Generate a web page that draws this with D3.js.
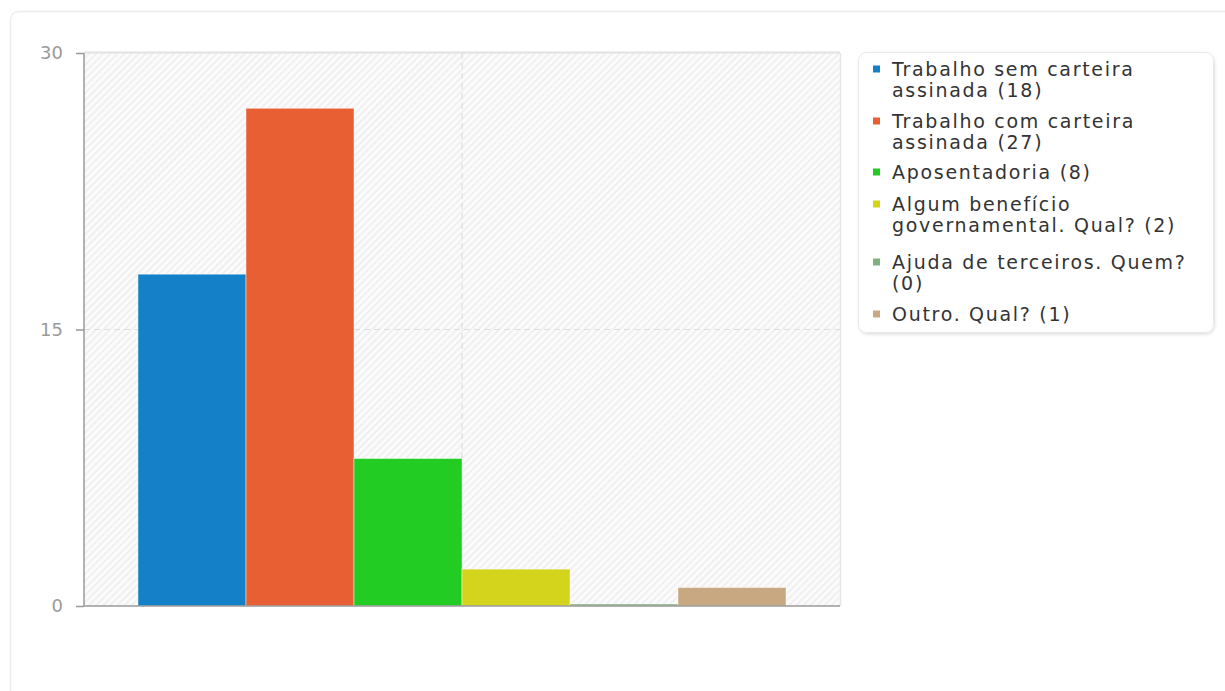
<!DOCTYPE html>
<html>
<head>
<meta charset="utf-8">
<script src="https://cdn.jsdelivr.net/npm/d3@7"></script>
<style>
  html, body { margin: 0; padding: 0; background: #fff; }
  svg { display: block; font-family: "DejaVu Sans", sans-serif; }
</style>
</head>
<body>
<svg id="chart" width="1225" height="691"></svg>
<script>
// Fontes de renda
const categories = [
  ["Trabalho sem carteira", "assinada (18)"],
  ["Trabalho com carteira", "assinada (27)"],
  ["Aposentadoria (8)"],
  ["Algum benefício", "governamental. Qual? (2)"],
  ["Ajuda de terceiros. Quem?", "(0)"],
  ["Outro. Qual? (1)"]
];
const values = [18, 27, 8, 2, 0, 1];
const colors = ["#1480c8", "#e85f33", "#22cc22", "#d4d41c", "#80b080", "#c8a880"];
const yTicks = [0, 15, 30];

const svg = d3.select("#chart");
const defs = svg.append("defs");

// diagonal hatch for the plot background
const pat = defs.append("pattern")
  .attr("id", "hatch").attr("patternUnits", "userSpaceOnUse")
  .attr("width", 5).attr("height", 5)
  .attr("patternTransform", "rotate(45)");
pat.append("rect").attr("width", 5).attr("height", 5).attr("fill", "#fbfbfb");
pat.append("rect").attr("width", 2).attr("height", 5).attr("fill", "#f0f0f0");

const shadow = defs.append("filter").attr("id", "shadow")
  .attr("x", "-5%").attr("y", "-5%").attr("width", "110%").attr("height", "110%");
shadow.append("feDropShadow").attr("dx", 1).attr("dy", 1.5)
  .attr("stdDeviation", 1.5).attr("flood-color", "#000").attr("flood-opacity", 0.12);

// outer card
svg.append("rect")
  .attr("x", 10.5).attr("y", 11.5).attr("width", 1400).attr("height", 900)
  .attr("rx", 8).attr("fill", "#fff").attr("stroke", "#ececec").attr("stroke-width", 1.5);

const plot = { left: 84, right: 840, top: 53, bottom: 606 };

const x = d3.scaleBand()
  .domain(d3.range(values.length))
  .range([plot.left, plot.right])
  .paddingInner(0).paddingOuter(0.5);
const y = d3.scaleLinear().domain([0, 30]).range([plot.bottom, plot.top]);

// plot background
svg.append("rect")
  .attr("x", plot.left).attr("y", plot.top)
  .attr("width", plot.right - plot.left).attr("height", plot.bottom - plot.top)
  .attr("fill", "url(#hatch)");

// top and right frame
svg.append("line").attr("x1", plot.left).attr("x2", plot.right)
  .attr("y1", plot.top - 0.5).attr("y2", plot.top - 0.5)
  .attr("stroke", "#e2e2e2").attr("stroke-width", 2);
svg.append("line").attr("x1", plot.right + 0.5).attr("x2", plot.right + 0.5)
  .attr("y1", plot.top).attr("y2", plot.bottom)
  .attr("stroke", "#e6e6e6").attr("stroke-width", 1.5);

// gridlines
svg.append("line")
  .attr("x1", plot.left).attr("x2", plot.right)
  .attr("y1", y(15)).attr("y2", y(15))
  .attr("stroke", "#dedede").attr("stroke-width", 1.2).attr("stroke-dasharray", "6,4");
svg.append("line")
  .attr("x1", (plot.left + plot.right) / 2).attr("x2", (plot.left + plot.right) / 2)
  .attr("y1", plot.top).attr("y2", plot.bottom)
  .attr("stroke", "#dedede").attr("stroke-width", 1.2).attr("stroke-dasharray", "6,4");

// bars
svg.append("g").selectAll("rect")
  .data(values)
  .join("rect")
  .attr("x", (d, i) => x(i))
  .attr("width", x.bandwidth())
  .attr("y", d => Math.min(y(d), plot.bottom - 2))
  .attr("height", d => Math.max(plot.bottom - y(d), 2))
  .attr("fill", (d, i) => colors[i])
  .attr("stroke", "rgba(255,255,255,0.45)").attr("stroke-width", 1);

// y axis
const yAxis = d3.axisLeft(y).tickValues(yTicks).tickSize(8).tickPadding(13).tickFormat(d3.format("d"));
const gy = svg.append("g").attr("transform", `translate(${plot.left},0)`).call(yAxis);
gy.select(".domain").attr("stroke", "#9a9a9a").attr("stroke-width", 1.5)
  .attr("d", `M0,${plot.top}V${plot.bottom}`);
gy.selectAll(".tick line").attr("stroke", "#9a9a9a").attr("stroke-width", 1.5);
gy.selectAll(".tick text").attr("fill", "#9a9a9a").attr("font-size", 18)
  .attr("font-family", "DejaVu Sans, sans-serif");

// x baseline
svg.append("line").attr("x1", plot.left).attr("x2", plot.right)
  .attr("y1", plot.bottom).attr("y2", plot.bottom)
  .attr("stroke", "#9a9a9a").attr("stroke-width", 1.5);

// legend
const legend = svg.append("g");
legend.append("rect")
  .attr("x", 858.5).attr("y", 52.5).attr("width", 355).attr("height", 280)
  .attr("rx", 8).attr("fill", "#fff").attr("stroke", "#e8e8e8")
  .attr("filter", "url(#shadow)");

const itemY = [69, 121, 172, 204, 262, 314];
const lineH = 21.5;
categories.forEach((lines, i) => {
  const g = legend.append("g");
  g.append("rect")
    .attr("x", 873).attr("y", itemY[i] - 3.5).attr("width", 7).attr("height", 7)
    .attr("fill", colors[i]);
  const t = g.append("text")
    .attr("x", 892).attr("y", itemY[i])
    .attr("fill", "#333").attr("font-size", 19).attr("letter-spacing", 1.7);
  lines.forEach((ln, j) => {
    t.append("tspan").attr("x", 892).attr("y", itemY[i] + j * lineH).attr("dy", "0.35em").text(ln);
  });
});
</script>
</body>
</html>
